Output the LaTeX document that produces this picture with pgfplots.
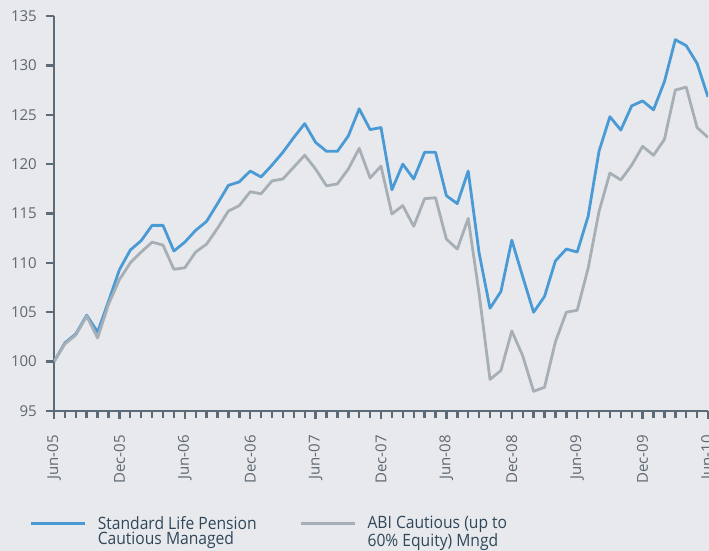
\documentclass[border=0pt]{standalone}
\usepackage{pgfplots}
\pgfplotsset{compat=1.18}
\usepackage{fontspec}
\setmainfont{Open Sans}
\newfontfamily\legfont[FakeStretch=0.92]{Open Sans}
\definecolor{bgc}{HTML}{E8E9ED}
\definecolor{axc}{HTML}{5B6B77}
\definecolor{bluec}{HTML}{4A9BD5}
\definecolor{grayc}{HTML}{A7AFB6}
\definecolor{labc}{HTML}{5D6770}
\definecolor{legc}{HTML}{2F4759}
\begin{document}
\begin{tikzpicture}
\fill[bgc] (-54bp,-140bp) rectangle (655bp,411bp);
\useasboundingbox (-54bp,-140bp) rectangle (655bp,411bp);
\begin{axis}[
  at={(0,0)}, anchor=south west,
  scale only axis, width=654bp, height=395bp,
  xmin=0, xmax=60, ymin=95, ymax=135,
  axis x line=bottom, axis y line=left,
  axis line style={axc, line width=2.8bp, -},
  tick style={axc, line width=2.4bp},
  tick align=outside,
  major tick length=8bp, minor tick length=7bp,
  xtick={0,6,...,60},
  minor x tick num=5,
  xticklabels={Jun-05,Dec-05,Jun-06,Dec-06,Jun-07,Dec-07,Jun-08,Dec-08,Jun-09,Dec-09,Jun-10},
  ytick={95,100,...,135},
  /pgf/number format/assume math mode=true,
  ticklabel style={font=\fontsize{15bp}{18bp}\selectfont, text=labc},
  xticklabel style={rotate=90, anchor=east, inner sep=0pt},
  xticklabel shift=16bp,
  yticklabel style={inner sep=0pt},
  yticklabel shift=9bp,
  legend columns=2,
  legend style={at={(-0.0370,-0.2658)}, anchor=north west, draw=none, fill=none,
    inner sep=0pt, column sep=0pt,
    nodes={inner sep=0pt, text=legc, font=\legfont\fontsize{17bp}{15.5bp}\selectfont},
    /tikz/every odd column/.append style={column sep=11bp},
    /tikz/every even column/.append style={column sep=12bp}},
  legend cell align=left,
  legend image code/.code={\draw[#1] (0bp,0bp) -- (54bp,0bp);},
]
\addplot[bluec, line width=2.8bp, line join=round] table {
0 100
1 101.9
2 102.8
3 104.7
4 103.0
5 106.1
6 109.3
7 111.3
8 112.25
9 113.8
10 113.8
11 111.2
12 112.1
13 113.3
14 114.2
15 116.0
16 117.85
17 118.2
18 119.3
19 118.7
20 119.9
21 121.2
22 122.7
23 124.1
24 122.2
25 121.3
26 121.3
27 122.85
28 125.6
29 123.5
30 123.7
31 117.4
32 120.0
33 118.5
34 121.2
35 121.2
36 116.8
37 116.0
38 119.3
39 111.0
40 105.4
41 107.1
42 112.3
43 108.6
44 105.0
45 106.6
46 110.2
47 111.4
48 111.1
49 114.7
50 121.3
51 124.8
52 123.45
53 125.9
54 126.4
55 125.5
56 128.35
57 132.6
58 132.0
59 130.2
60 126.8
};
\addlegendentry{\parbox[t]{190bp}{Standard Life Pension\\Cautious Managed}}
\addplot[grayc, line width=2.8bp, line join=round] table {
0 100
1 101.8
2 102.7
3 104.6
4 102.4
5 105.8
6 108.3
7 110.0
8 111.1
9 112.1
10 111.8
11 109.35
12 109.5
13 111.1
14 111.9
15 113.5
16 115.25
17 115.8
18 117.2
19 117.0
20 118.3
21 118.5
22 119.7
23 120.9
24 119.5
25 117.8
26 118.0
27 119.5
28 121.6
29 118.6
30 119.8
31 114.95
32 115.8
33 113.7
34 116.5
35 116.6
36 112.4
37 111.4
38 114.5
39 106.9
40 98.2
41 99.1
42 103.1
43 100.6
44 97.0
45 97.4
46 102.0
47 105.0
48 105.2
49 109.45
50 115.2
51 119.1
52 118.4
53 119.9
54 121.8
55 120.9
56 122.5
57 127.5
58 127.8
59 123.7
60 122.7
};
\addlegendentry{\parbox[t]{190bp}{ABI Cautious (up to\\60\% Equity) Mngd}}
\end{axis}
\end{tikzpicture}
\end{document}
